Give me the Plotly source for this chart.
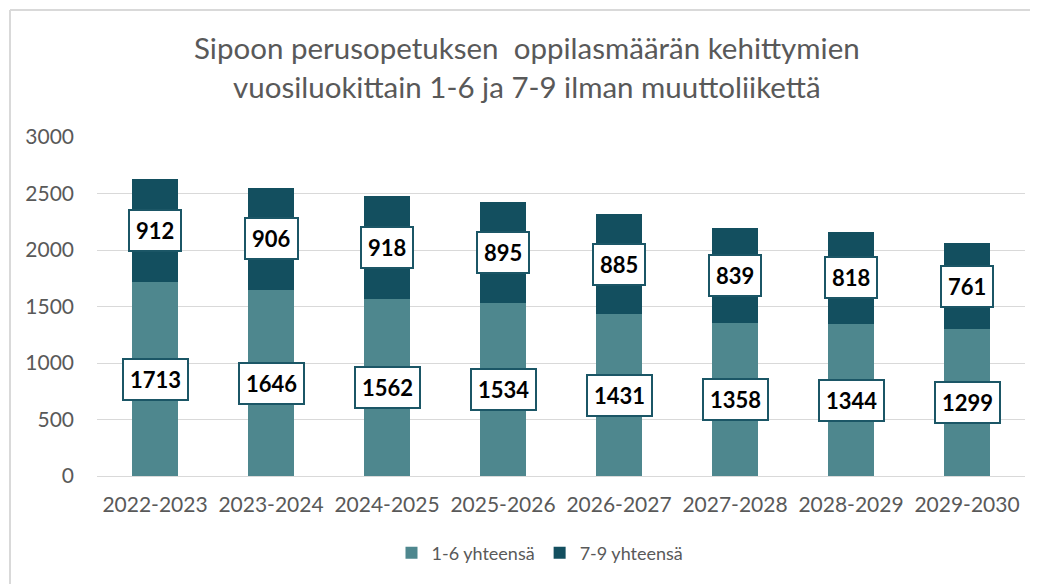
import plotly.graph_objects as go

categories = ["2022-2023", "2023-2024", "2024-2025", "2025-2026",
              "2026-2027", "2027-2028", "2028-2029", "2029-2030"]
grades_1_6 = [1713, 1646, 1562, 1534, 1431, 1358, 1344, 1299]
grades_7_9 = [912, 906, 918, 895, 885, 839, 818, 761]
series_names = ["1-6 yhteensä", "7-9 yhteensä"]
title_lines = ["Sipoon perusopetuksen  oppilasmäärän kehittymien",
               "vuosiluokittain 1-6 ja 7-9 ilman muuttoliikettä"]
y_ticks = [0, 500, 1000, 1500, 2000, 2500, 3000]

LIGHT = "#4E878E"
DARK = "#134F5F"
BORDER = "#1B5666"
FONT = "Lato"
GRAY = "#595959"

# page has an 8px body margin; work in figure coordinates (page - 8)
OFF = 8
W, H = 1038 - OFF, 584 - OFF
L, T = 97 - OFF, 137 - OFF
B = H - (476 - OFF)
R = W - (1025 - OFF)
pw, ph = W - L - R, H - T - B


def px_x(x):
    return (x - OFF - L) / pw


def px_y(y):
    return (H - B - (y - OFF)) / ph


fig = go.Figure()
fig.add_trace(go.Bar(x=categories, y=grades_1_6, name=series_names[0],
                     marker=dict(color=LIGHT, line=dict(width=0))))
fig.add_trace(go.Bar(x=categories, y=grades_7_9, name=series_names[1],
                     marker=dict(color=DARK, line=dict(width=0))))

annotations = []
for c, a, b in zip(categories, grades_1_6, grades_7_9):
    for val, mid in ((a, a / 2), (b, a + b / 2)):
        annotations.append(dict(
            x=c, y=mid, xref="x", yref="y", text=str(val), showarrow=False,
            font=dict(family=FONT, size=22, color="black", weight="bold"),
            bgcolor="white", bordercolor=BORDER, borderwidth=2, borderpad=6,
        ))

for i, line in enumerate(title_lines):
    annotations.append(dict(
        x=px_x(527), y=px_y([47, 87][i]), xref="paper", yref="paper",
        text=line, showarrow=False, xanchor="center", yanchor="middle",
        font=dict(family=FONT, size=29.5, color=GRAY),
    ))

fig.update_layout(
    width=W, height=H,
    margin=dict(l=L, r=R, t=T, b=B),
    barmode="stack", bargap=0.6,
    plot_bgcolor="white", paper_bgcolor="white",
    font=dict(family=FONT, color=GRAY),
    showlegend=True,
    legend=dict(orientation="h", x=px_x(540), xanchor="center",
                y=px_y(553), yanchor="middle",
                font=dict(family=FONT, size=18, color=GRAY),
                traceorder="normal", itemwidth=30),
    annotations=annotations,
    shapes=[
        dict(type="line", xref="paper", yref="paper",
             x0=px_x(10), x1=px_x(1045), y0=px_y(10), y1=px_y(10),
             line=dict(color="#D9D9D9", width=2)),
        dict(type="line", xref="paper", yref="paper",
             x0=px_x(10), x1=px_x(10), y0=px_y(10), y1=px_y(590),
             line=dict(color="#D9D9D9", width=2)),
    ],
)
fig.update_yaxes(range=[0, 3000], tickvals=y_ticks, showgrid=True,
                 gridcolor="#D9D9D9", gridwidth=1, zeroline=False,
                 showline=False, ticks="", ticklabelstandoff=22,
                 tickfont=dict(family=FONT, size=21, color=GRAY))
fig.update_xaxes(showline=True, linecolor="#D9D9D9", linewidth=1,
                 ticks="", ticklabelstandoff=10,
                 tickfont=dict(family=FONT, size=21, color=GRAY))

fig.write_html("out.html")
